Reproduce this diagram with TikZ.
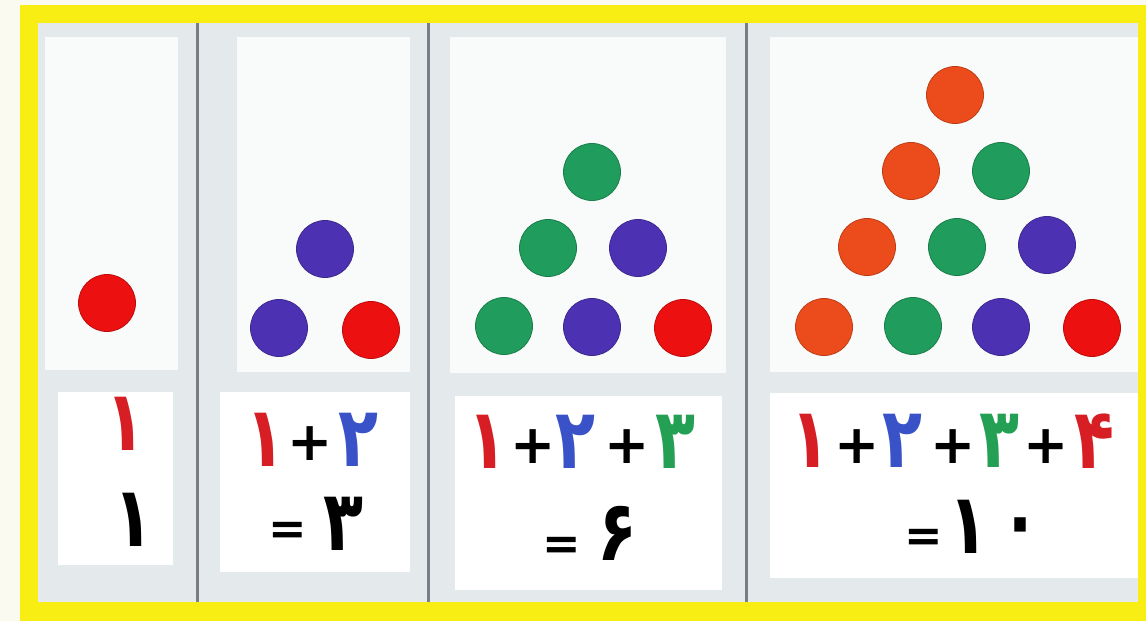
\documentclass[tikz,border=0pt]{standalone}
\usepackage{fontspec}
\newfontfamily\pfont[Script=Arabic]{DejaVu Sans}
\newfontfamily\sfont{DejaVu Sans}
\definecolor{outbg}{RGB}{250,250,240}
\definecolor{yel}{RGB}{248,238,20}
\definecolor{inbg}{RGB}{228,233,236}
\definecolor{sep}{RGB}{120,126,134}
\definecolor{topbox}{RGB}{249,251,251}
\definecolor{cred}{RGB}{236,16,16}
\definecolor{cblue}{RGB}{76,50,178}
\definecolor{cgreen}{RGB}{32,156,92}
\definecolor{corange}{RGB}{236,76,28}
\definecolor{tred}{RGB}{214,30,36}
\definecolor{tblue}{RGB}{58,82,200}
\definecolor{tgreen}{RGB}{36,160,84}
\begin{document}
\begin{tikzpicture}[x=1pt,y=-1pt,
  ball/.style={circle,minimum size=57pt,inner sep=0,draw=#1!80!black,line width=0.8pt,fill=#1},
  dg/.style={inner sep=0,xscale=0.78,font=\pfont\bfseries\fontsize{84}{84}\selectfont},
  pl/.style={inner sep=0,font=\sfont\bfseries\fontsize{54}{54}\selectfont},
  eq/.style={inner sep=0,font=\sfont\bfseries\fontsize{46}{46}\selectfont},
  panel/.style={fill=topbox,draw=none},
  lowbox/.style={fill=white,draw=none},
  sepline/.style={draw=sep,line width=3pt}]
\useasboundingbox (0,0) rectangle (1146,621);
\clip (0,0) rectangle (1146,621);
\fill[outbg] (0,0) rectangle (1146,621);
\fill[yel] (20,5) rectangle (1160,640);
\fill[inbg] (38,23) rectangle (1138,602);
% top boxes
\fill[panel] (45,37) rectangle (178,370);
\fill[panel] (237,37) rectangle (410,372);
\fill[panel] (450,37) rectangle (726,373);
\fill[panel] (770,37) rectangle (1138,372);
% bottom boxes
\fill[lowbox] (58,392) rectangle (173,565);
\fill[lowbox] (220,392) rectangle (410,572);
\fill[lowbox] (455,396) rectangle (722,590);
\fill[lowbox] (770,393) rectangle (1138,578);
% separators
\coordinate (s1t) at (197,23); \coordinate (s1b) at (197,602);
\coordinate (s2t) at (428,23); \coordinate (s2b) at (428,602);
\coordinate (s3t) at (746,23); \coordinate (s3b) at (746,602);
\draw[sepline] (s1t) -- (s1b);
\draw[sepline] (s2t) -- (s2b);
\draw[sepline] (s3t) -- (s3b);
% panel 1
\node[ball=cred] (a1) at (107,303) {};
% panel 2
\node[ball=cblue] (b1) at (325,249) {};
\node[ball=cblue] (b2) at (279,328) {};
\node[ball=cred] (b3) at (371,330) {};
% panel 3
\node[ball=cgreen] (c1) at (592,172) {};
\node[ball=cgreen] (c2) at (548,248) {};
\node[ball=cblue] (c3) at (638,248) {};
\node[ball=cgreen] (c4) at (504,326) {};
\node[ball=cblue] (c5) at (592,327) {};
\node[ball=cred] (c6) at (683,328) {};
% panel 4
\node[ball=corange] (d1) at (955,95) {};
\node[ball=corange] (d2) at (911,171) {};
\node[ball=cgreen] (d3) at (1001,171) {};
\node[ball=corange] (d4) at (867,247) {};
\node[ball=cgreen] (d5) at (957,247) {};
\node[ball=cblue] (d6) at (1047,245) {};
\node[ball=corange] (d7) at (824,327) {};
\node[ball=cgreen] (d8) at (913,326) {};
\node[ball=cblue] (d9) at (1001,327) {};
\node[ball=cred] (d10) at (1092,328) {};
% text panel 1
\node[dg,text=tred] (t1a) at (125,424) {۱};
\node[dg,text=black] (t1b) at (133,520) {۱};
% text panel 2
\node[dg,text=tred] (t2a) at (265,440) {۱};
\node[pl] (t2p) at (310,444) {+};
\node[dg,text=tblue] (t2b) at (358,440) {۲};
\node[eq] (t2e) at (288,533) {=};
\node[dg] (t2r) at (343,524) {۳};
% text panel 3
\node[dg,text=tred] (t3a) at (487,442) {۱};
\node[pl] (t3p1) at (533,447) {+};
\node[dg,text=tblue] (t3b) at (575,442) {۲};
\node[pl] (t3p2) at (627,447) {+};
\node[dg,text=tgreen] (t3c) at (675,442) {۳};
\node[eq] (t3e) at (562,548) {=};
\node[dg] (t3r) at (617,533) {۶};
% text panel 4
\node[dg,text=tred] (t4a) at (810,441) {۱};
\node[pl] (t4p1) at (857,447) {+};
\node[dg,text=tblue] (t4b) at (902,441) {۲};
\node[pl] (t4p2) at (953,447) {+};
\node[dg,text=tgreen] (t4c) at (999,441) {۳};
\node[pl] (t4p3) at (1046,447) {+};
\node[dg,text=tred] (t4d) at (1094,441) {۴};
\node[eq] (t4e) at (924,540) {=};
\node[dg] (t4r1) at (968,527) {۱};
\node[dg] (t4r0) at (1020,533) {۰};
\end{tikzpicture}
\end{document}
